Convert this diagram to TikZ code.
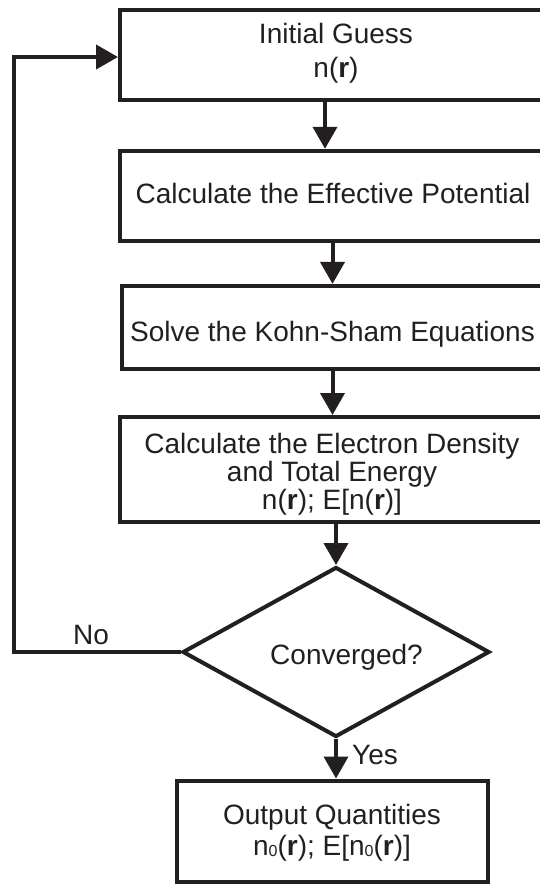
\documentclass[tikz,border=0pt]{standalone}
\usepackage{fontspec}
\setmainfont{Liberation Sans}
\usetikzlibrary{arrows.meta,shapes.geometric}
\definecolor{ink}{HTML}{231F20}
\newcommand\topst[1]{\rule{0pt}{#1pt}}
\newcommand\botst[1]{\rule[-#1pt]{0pt}{#1pt}}
\newcommand\zsub{\raisebox{-1pt}{\fontsize{16}{16}\selectfont 0}}
\begin{document}
\begin{tikzpicture}[x=1pt,y=-1pt,
  box/.style={draw=ink, line width=4pt, rectangle, inner sep=0pt, align=center, text=ink, font=\fontsize{28}{28}\selectfont},
  dia/.style={draw=ink, line width=4pt, diamond, inner sep=0pt, minimum width=307pt, minimum height=170pt, aspect=1.8},
  arr/.style={draw=ink, line width=4pt, -{Triangle[length=22pt,width=24pt]}},
  lbl/.style={text=ink, font=\fontsize{28}{28}\selectfont, inner sep=0pt}]
\useasboundingbox (0,0) rectangle (540,884);
\clip (0,0) rectangle (540,884);
\node[box, minimum width=432pt, minimum height=90pt] (b1) at (336,55.3)
  {\topst{21}Initial Guess\\[6pt] n(\textbf{r})\botst{11}};
\node[box, minimum width=426pt, minimum height=90pt] (b2) at (333,195.8)
  {\rule[-6pt]{0pt}{27pt}Calculate the Effective Potential};
\node[box, minimum width=421pt, minimum height=83pt] (b3) at (332.5,327.4)
  {\rule[-6pt]{0pt}{40.6pt}Solve the Kohn-Sham Equations};
\node[box, font=\fontsize{28}{27.85}\selectfont, minimum width=424pt, minimum height=105pt] (b4) at (332,469.5)
  {\topst{29.3}Calculate the Electron Density\\ and Total Energy\\ n(\textbf{r}); E[n(\textbf{r})]\botst{6}};
\node[dia, label={[lbl, anchor=base, xshift=10.5pt, yshift=-5pt]center:Converged?}] (d) at (336,652) {};
\node[box, minimum width=311pt, minimum height=101pt] (out) at (332,831)
  {\topst{23.7}Output Quantities\\[3.7pt] n\zsub(\textbf{r}); E[n\zsub(\textbf{r})]\botst{6}};
\node[lbl, anchor=base] (no) at (91,644) {No};
\node[lbl, anchor=base] (yes) at (375,764) {Yes};
\coordinate (a1) at (325,0);
\coordinate (lp) at (14,57);
\draw[arr] (b1.south -| a1) -- (b2.north -| a1);
\draw[arr] (b2.south -| b3.north) -- (b3.north);
\draw[arr] (b3.south) -- (b3.south |- b4.north);
\draw[arr] (b4.south -| d.north) -- (d.north);
\draw[arr] (d.south) -- (d.south |- out.north);
\draw[arr] (d.west) -- (d.west -| lp) -- (lp) -- (lp -| b1.west);
\end{tikzpicture}
\end{document}
